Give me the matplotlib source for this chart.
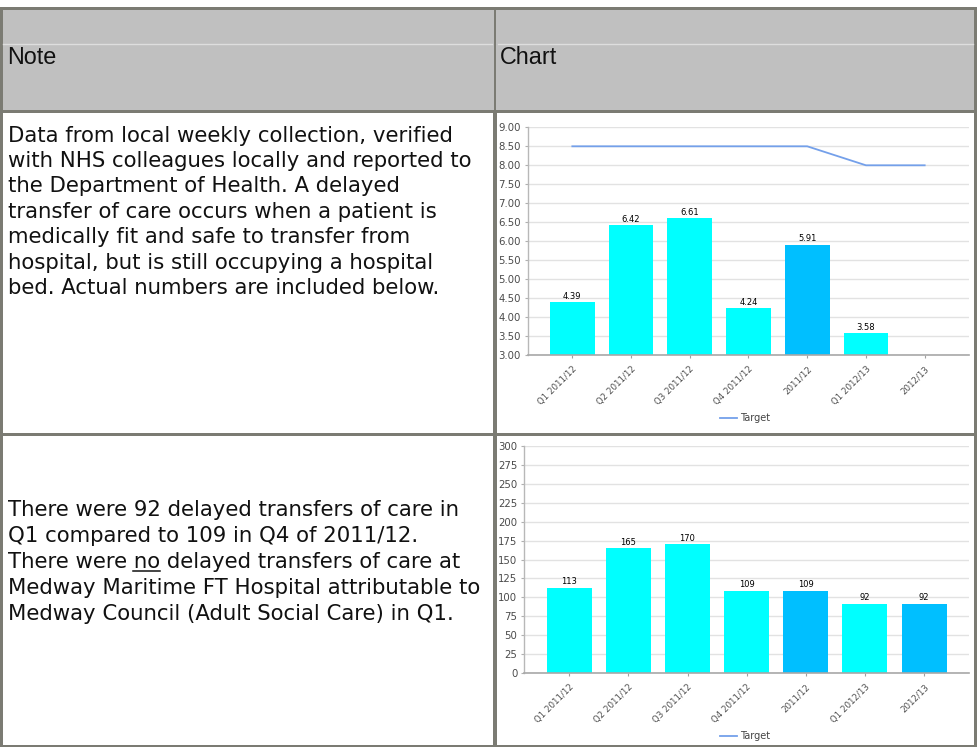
import matplotlib
matplotlib.use('Agg')
import matplotlib.pyplot as plt
from matplotlib.patches import Rectangle
import numpy as np

W, H = 978, 747

# data
categories = ["Q1 2011/12", "Q2 2011/12", "Q3 2011/12", "Q4 2011/12",
              "2011/12", "Q1 2012/13", "2012/13"]
is_annual = [False, False, False, False, True, False, True]
rate_values = [4.39, 6.42, 6.61, 4.24, 5.91, 3.58, None]
rate_target = [8.5, 8.5, 8.5, 8.5, 8.5, 8.0, 8.0]
count_values = [113, 165, 170, 109, 109, 92, 92]
count_target = [None] * 7

header_labels = ["Note", "Chart"]
note1_lines = [
    "Data from local weekly collection, verified",
    "with NHS colleagues locally and reported to",
    "the Department of Health. A delayed",
    "transfer of care occurs when a patient is",
    "medically fit and safe to transfer from",
    "hospital, but is still occupying a hospital",
    "bed. Actual numbers are included below.",
]
note2_lines = [
    "There were 92 delayed transfers of care in",
    "Q1 compared to 109 in Q4 of 2011/12.",
    "There were no delayed transfers of care at",
    "Medway Maritime FT Hospital attributable to",
    "Medway Council (Adult Social Care) in Q1.",
]
underlined_word = "no"

BORDER = '#7b7b73'
QUARTER = '#00ffff'
ANNUAL = '#00bfff'
TARGET = '#74a0ea'

fig = plt.figure(figsize=(W / 100, H / 100), dpi=100)
fig.patch.set_facecolor('white')

# table drawn in pixel coordinates
tab = fig.add_axes([0, 0, 1, 1])
tab.set_xlim(0, W)
tab.set_ylim(H, 0)
tab.axis('off')


def box(x0, y0, x1, y1, color):
    tab.add_patch(Rectangle((x0, y0), x1 - x0, y1 - y0, color=color, lw=0))


box(0, 10, W, 110, '#c0c0c0')
box(0, 7, W, 10, BORDER)
box(0, 110, W, 113, BORDER)
box(0, 433, W, 436, BORDER)
box(0, 745, W, 747, BORDER)
box(0, 7, 3, H, BORDER)
box(974, 7, W, H, BORDER)
box(494, 7, 496, 110, BORDER)
box(493, 110, 497, H, BORDER)
tab.plot([3, 492], [43.5, 43.5], color='#dedede', lw=1)
tab.plot([498, 973], [43.5, 43.5], color='#dedede', lw=1)

tab.text(7, 58, header_labels[0], fontsize=16.8, family='Liberation Sans',
         va='center', ha='left', color='#111111')
tab.text(500, 58, header_labels[1], fontsize=16.8, family='Liberation Sans',
         va='center', ha='left', color='#111111')

body = dict(fontsize=15.3, family='DejaVu Sans', color='#111111',
            ha='left', va='baseline')
for i, line in enumerate(note1_lines):
    tab.text(7.5, 141.7 + 25.4 * i, line, **body)

for i, line in enumerate(note2_lines):
    tab.text(7.5, 516 + 26 * i, line, **body)

# underline "no" in the third line of the second note
renderer = fig.canvas.get_renderer()
prefix = note2_lines[2][:note2_lines[2].index(underlined_word) + len(underlined_word)]
t1 = tab.text(7.5, 568, prefix, alpha=0, **body)
t2 = tab.text(7.5, 568, underlined_word, alpha=0, **body)
e1 = t1.get_window_extent(renderer)
e2 = t2.get_window_extent(renderer)
x_end = e1.x1
x_start = x_end - e2.width
tab.plot([x_start, x_end], [570.5, 570.5], color='#111111', lw=1.1)


def px_rect(left, top, right, bottom):
    return [left / W, 1 - bottom / H, (right - left) / W, (bottom - top) / H]


def draw_chart(rect, values, target, ylim, step, fmt, legend_y):
    ax = fig.add_axes(rect)
    ax.set_facecolor('white')
    x = np.arange(len(categories))
    for xi, v, annual in zip(x, values, is_annual):
        if v is None:
            continue
        ax.bar(xi, v, width=0.76, color=ANNUAL if annual else QUARTER,
               zorder=2)
        ax.annotate(fmt.format(v), (xi, v), xytext=(0, 2.6),
                    textcoords='offset points', ha='center', va='baseline',
                    fontsize=6, color='black', zorder=3)
    tvals = [np.nan if t is None else t for t in target]
    ax.plot(x, tvals, color=TARGET, lw=1.3, label='Target', zorder=3)

    ax.set_xlim(-0.76, 6.76)
    ax.set_ylim(*ylim)
    ticks = np.arange(ylim[0], ylim[1] + step / 2, step)
    ax.set_yticks(ticks)
    if step < 1:
        ax.set_yticklabels(['{:.2f}'.format(t) for t in ticks])
    else:
        ax.set_yticklabels(['{:d}'.format(int(t)) for t in ticks])
    ax.set_xticks(x)
    ax.set_xticklabels(categories, rotation=45, ha='right',
                       rotation_mode='anchor', fontsize=6.2, color='#505050')
    ax.tick_params(axis='y', labelsize=7.3, labelcolor='#4a4a4a',
                   length=2.5, color='#b0b0b0', pad=2.5)
    ax.tick_params(axis='x', length=2.5, color='#a0a0a0', pad=4)
    ax.grid(axis='y', color='#e2e2e2', lw=1, zorder=0)
    ax.set_axisbelow(True)
    for s in ['top', 'right']:
        ax.spines[s].set_visible(False)
    ax.spines['left'].set_color('#b8b8b8')
    ax.spines['bottom'].set_color('#a8a8a8')
    ax.spines['left'].set_linewidth(1)
    ax.spines['bottom'].set_linewidth(1.2)
    ax.legend(loc='center', bbox_to_anchor=(745 / W, 1 - legend_y / H),
              bbox_transform=fig.transFigure, frameon=False, fontsize=7,
              handlelength=1.7, handletextpad=0.3, labelcolor='#444444')
    return ax


draw_chart(px_rect(527.7, 127.3, 969.3, 355.3), rate_values, rate_target,
           (3, 9), 0.5, '{:.2f}', 418)
draw_chart(px_rect(524.3, 445.7, 969, 673.3), count_values, count_target,
           (0, 300), 25, '{:d}', 736)

fig.savefig('out.png', dpi=100)
